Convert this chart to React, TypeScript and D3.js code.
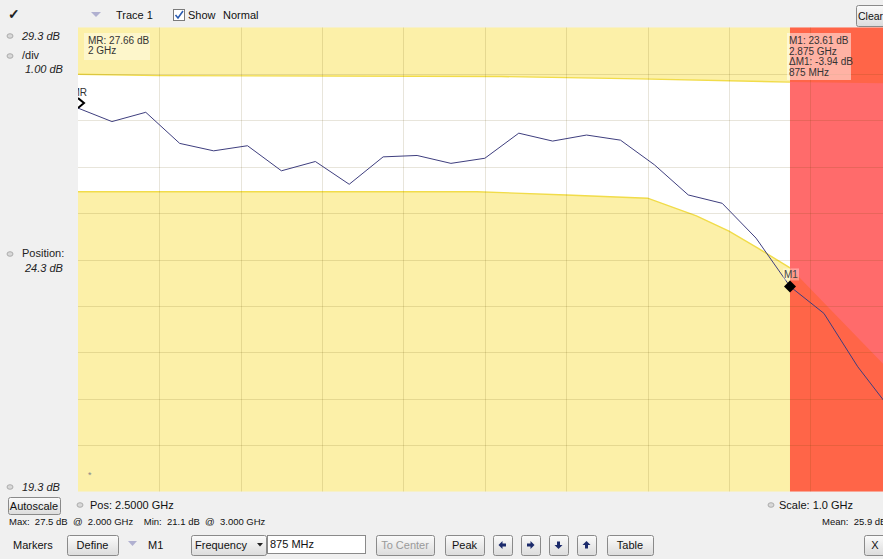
import React from 'react';
import * as d3 from 'd3';

// ---- data ----
const freqGHz = [2.0, 2.0417, 2.0833, 2.125, 2.1667, 2.2083, 2.25, 2.2917, 2.3333, 2.375, 2.4167, 2.4583, 2.5, 2.5417, 2.5833, 2.625, 2.6667, 2.7083, 2.75, 2.7917, 2.8333, 2.875, 2.9167, 2.9583, 3.0];
const traceDb = [27.56, 27.27, 27.47, 26.8, 26.64, 26.75, 26.21, 26.41, 25.92, 26.51, 26.54, 26.37, 26.48, 27.02, 26.85, 26.98, 26.87, 26.34, 25.69, 25.51, 24.76, 23.72, 23.14, 21.99, 21.04];
const upperLimitF = [2.0, 2.1, 2.52, 2.69, 2.875, 3.0];
const upperLimitDb = [28.29, 28.26, 28.24, 28.19, 28.12, 28.09];
const lowerLimitF = [2.0, 2.49, 2.6, 2.7, 2.76, 2.8, 2.835, 2.875, 3.0];
const lowerLimitDb = [25.76, 25.76, 25.69, 25.62, 25.24, 24.91, 24.55, 24.12, 21.86];
const yDomain = [19.3, 29.3];
const xDomain = [2.0, 3.0];
const markerRIndex = 0;
const marker1Index = 21;
const mrLabel = ['MR: 27.66 dB', '2 GHz'];
const m1Label = ['M1: 23.61 dB', '2.875 GHz', '\u0394M1: -3.94 dB', '875 MHz'];

const W = 883;
const H = 559;
const FONT = '"Liberation Sans", Arial, sans-serif';

function Btn({ x, y, w, h, label, color = '#111', tx, fs = 11 }: any) {
  return (
    <g>
      <rect x={x + 0.5} y={y + 0.5} width={w} height={h} rx={2} fill="url(#btnGrad)" stroke="#8a8a8a" />
      {label && (
        <text x={tx !== undefined ? tx : x + w / 2} y={y + h / 2 + 4} textAnchor={tx !== undefined ? 'start' : 'middle'} fontSize={fs} fill={color} fontFamily={FONT}>
          {label}
        </text>
      )}
    </g>
  );
}

function Icon({ x, y }: any) {
  return <ellipse cx={x} cy={y} rx={3} ry={2.3} fill="#d8d8d8" stroke="#a0a0a0" strokeWidth={0.8} />;
}

function ArrowBtn({ x, dir }: any) {
  const cx = x + 9.5;
  const cy = 545;
  let d = '';
  if (dir === 'left') d = `M${cx - 4},${cy} L${cx},${cy - 4} L${cx},${cy - 1.5} L${cx + 3.5},${cy - 1.5} L${cx + 3.5},${cy + 1.5} L${cx},${cy + 1.5} L${cx},${cy + 4} Z`;
  if (dir === 'right') d = `M${cx + 4},${cy} L${cx},${cy - 4} L${cx},${cy - 1.5} L${cx - 3.5},${cy - 1.5} L${cx - 3.5},${cy + 1.5} L${cx},${cy + 1.5} L${cx},${cy + 4} Z`;
  if (dir === 'down') d = `M${cx},${cy + 4} L${cx - 4},${cy} L${cx - 1.5},${cy} L${cx - 1.5},${cy - 3.5} L${cx + 1.5},${cy - 3.5} L${cx + 1.5},${cy} L${cx + 4},${cy} Z`;
  if (dir === 'up') d = `M${cx},${cy - 4} L${cx - 4},${cy} L${cx - 1.5},${cy} L${cx - 1.5},${cy + 3.5} L${cx + 1.5},${cy + 3.5} L${cx + 1.5},${cy} L${cx + 4},${cy} Z`;
  return (
    <g>
      <Btn x={x} y={535} w={19} h={20} />
      <path d={d} fill="#1b2a6b" />
    </g>
  );
}

export default function App() {
  const left = 78;
  const top = 27.3;
  const bottom = 491.7;
  const x = d3.scaleLinear().domain(xDomain).range([left, 891.7]);
  const y = d3.scaleLinear().domain(yDomain).range([bottom, top]);
  const xM1 = x(freqGHz[marker1Index]);

  const upperPts = upperLimitF.map((f, i) => [x(f), y(upperLimitDb[i])] as [number, number]);
  const lowerPts = lowerLimitF.map((f, i) => [x(f), y(lowerLimitDb[i])] as [number, number]);
  const line = d3.line();
  const passBand = line([...upperPts, ...lowerPts.slice().reverse()]) + 'Z';
  const tracePath = d3.line<number>().x((_, i) => x(freqGHz[i])).y((d) => y(d))(traceDb) as string;

  const vGrid = d3.range(1, 10).map((k) => xDomain[0] + k * 0.1);
  const hGrid = d3.range(1, 10).map((k) => yDomain[0] + k);

  const mrX = x(freqGHz[markerRIndex]);
  const mrY = y(traceDb[markerRIndex]);
  const m1Y = y(traceDb[marker1Index]);

  return (
    <svg width={W} height={H} style={{ position: 'absolute', left: 0, top: 0, display: 'block' }} fontFamily={FONT}>
      <defs>
        <linearGradient id="btnGrad" x1="0" y1="0" x2="0" y2="1">
          <stop offset="0" stopColor="#fbfbfb" />
          <stop offset="1" stopColor="#dcdcdc" />
        </linearGradient>
        <clipPath id="plotClip">
          <rect x={left} y={top} width={W - left} height={bottom - top} />
        </clipPath>
        <clipPath id="leftZone">
          <rect x={left} y={top} width={xM1 - left} height={bottom - top} />
        </clipPath>
        <clipPath id="rightZone">
          <rect x={xM1} y={top} width={W - xM1} height={bottom - top} />
        </clipPath>
      </defs>
      <rect x={0} y={0} width={W} height={H} fill="#f0f0f0" />

      {/* plot */}
      <g clipPath="url(#plotClip)">
        <rect x={left} y={top} width={xM1 - left} height={bottom - top} fill="#fcf0a8" />
        <rect x={xM1} y={top} width={W - xM1} height={bottom - top} fill="#ff6548" />
        <path d={passBand} fill="#ffffff" clipPath="url(#leftZone)" />
        <path d={passBand} fill="#ff6b6b" clipPath="url(#rightZone)" />
        <g clipPath="url(#leftZone)" fill="none" stroke="#f1dc4a" strokeWidth={1.4}>
          <path d={line(upperPts) as string} />
          <path d={line(lowerPts) as string} />
        </g>
        {vGrid.map((f) => (
          <line key={'v' + f} x1={Math.round(x(f)) + 0.5} x2={Math.round(x(f)) + 0.5} y1={top} y2={bottom} stroke="rgba(90,70,0,0.14)" />
        ))}
        {hGrid.map((v) => (
          <line key={'h' + v} x1={left} x2={W} y1={Math.round(y(v)) + 0.5} y2={Math.round(y(v)) + 0.5} stroke="rgba(90,70,0,0.14)" />
        ))}
        <path d={tracePath} fill="none" stroke="#3e3e7e" strokeWidth={1} />

        {/* MR marker */}
        <text x={mrX - 6.5} y={mrY - 12} fontSize={10} fill="#333">MR</text>
        <path d={`M${mrX},${mrY - 10} L${mrX + 6},${mrY - 5} L${mrX},${mrY}`} fill="none" stroke="#000" strokeWidth={2} />

        {/* M1 marker */}
        <rect x={xM1 - 7} y={m1Y - 18} width={16} height={12} fill="rgba(255,255,255,0.35)" />
        <text x={xM1 - 6} y={m1Y - 8} fontSize={10} fill="#444">M1</text>
        <path d={`M${xM1},${m1Y - 6} L${xM1 + 6},${m1Y} L${xM1},${m1Y + 6} L${xM1 - 6},${m1Y} Z`} fill="#000" />

        {/* marker info boxes */}
        <rect x={84} y={33} width={66} height={27} fill="rgba(255,255,255,0.4)" />
        {mrLabel.map((t, i) => (
          <text key={t} x={88} y={44 + i * 10} fontSize={10} fill="#333">{t}</text>
        ))}
        <rect x={xM1 - 3} y={33} width={64} height={47} fill="rgba(255,255,255,0.5)" />
        {m1Label.map((t, i) => (
          <text key={t} x={xM1 - 1} y={44 + i * 10.5} fontSize={10} fill="#333">{t}</text>
        ))}
        <text x={88} y={478} fontSize={9} fill="#888">*</text>
      </g>

      {/* top bar */}
      <text x={8} y={19} fontSize={14} fontWeight="bold" fill="#222">{'\u2713'}</text>
      <path d="M91,12 L101,12 L96,17 Z" fill="#b0b0d0" />
      <text x={116} y={19} fontSize={11} fill="#111">Trace 1</text>
      <rect x={173.5} y={9.5} width={11} height={11} fill="#fff" stroke="#7a7a7a" />
      <path d="M175.5,15 L178,18 L183,11" fill="none" stroke="#2a5bb0" strokeWidth={1.6} />
      <text x={188} y={19} fontSize={11} fill="#111">Show</text>
      <text x={223} y={19} fontSize={11} fill="#111">Normal</text>
      <Btn x={856} y={5} w={34} h={21} label="Clear" tx={858} fs={10.5} />

      {/* left panel */}
      <Icon x={10} y={36} />
      <text x={22} y={40} fontSize={11} fontStyle="italic" fill="#222">29.3 dB</text>
      <Icon x={10} y={56} />
      <text x={22} y={59} fontSize={11} fill="#222">/div</text>
      <text x={25} y={73} fontSize={11} fontStyle="italic" fill="#222">1.00 dB</text>
      <Icon x={10} y={254} />
      <text x={22} y={257} fontSize={11} fill="#222">Position:</text>
      <text x={25} y={272} fontSize={11} fontStyle="italic" fill="#222">24.3 dB</text>
      <Icon x={10} y={487} />
      <text x={22} y={491} fontSize={11} fontStyle="italic" fill="#222">19.3 dB</text>

      {/* bottom */}
      <Btn x={8} y={497} w={52} h={17} label="Autoscale" />
      <Icon x={80} y={505} />
      <text x={90} y={509} fontSize={11} fill="#111">Pos:  2.5000 GHz</text>
      <Icon x={771} y={505} />
      <text x={779} y={509} fontSize={11} fill="#111">Scale:  1.0 GHz</text>
      <text x={9} y={525} fontSize={9.5} fill="#111" xmlSpace="preserve">{'Max:  27.5 dB  @  2.000 GHz    Min:  21.1 dB  @  3.000 GHz'}</text>
      <text x={822} y={525} fontSize={9.5} fill="#111" xmlSpace="preserve">{'Mean:  25.9 dB'}</text>

      <text x={13} y={549} fontSize={11} fill="#111">Markers</text>
      <Btn x={67} y={535} w={51} h={20} label="Define" />
      <path d="M128,541 L137,541 L132.5,546 Z" fill="#b0b0d0" />
      <text x={148} y={549} fontSize={11} fill="#111">M1</text>
      <Btn x={191} y={535} w={75} h={20} label="Frequency" tx={195} />
      <path d="M257,543 L263,543 L260,546.5 Z" fill="#222" />
      <rect x={267.5} y={535.5} width={98} height={18} fill="#fff" stroke="#8a8a8a" />
      <text x={270} y={548} fontSize={11} fill="#111">875 MHz</text>
      <Btn x={376} y={535} w={58} h={20} label="To Center" color="#9a9a9a" />
      <Btn x={445} y={535} w={39} h={20} label="Peak" />
      <ArrowBtn x={493} dir="left" />
      <ArrowBtn x={521} dir="right" />
      <ArrowBtn x={549} dir="down" />
      <ArrowBtn x={577} dir="up" />
      <Btn x={607} y={535} w={46} h={20} label="Table" />
      <Btn x={864} y={535} w={22} h={20} label="X" />
    </svg>
  );
}
